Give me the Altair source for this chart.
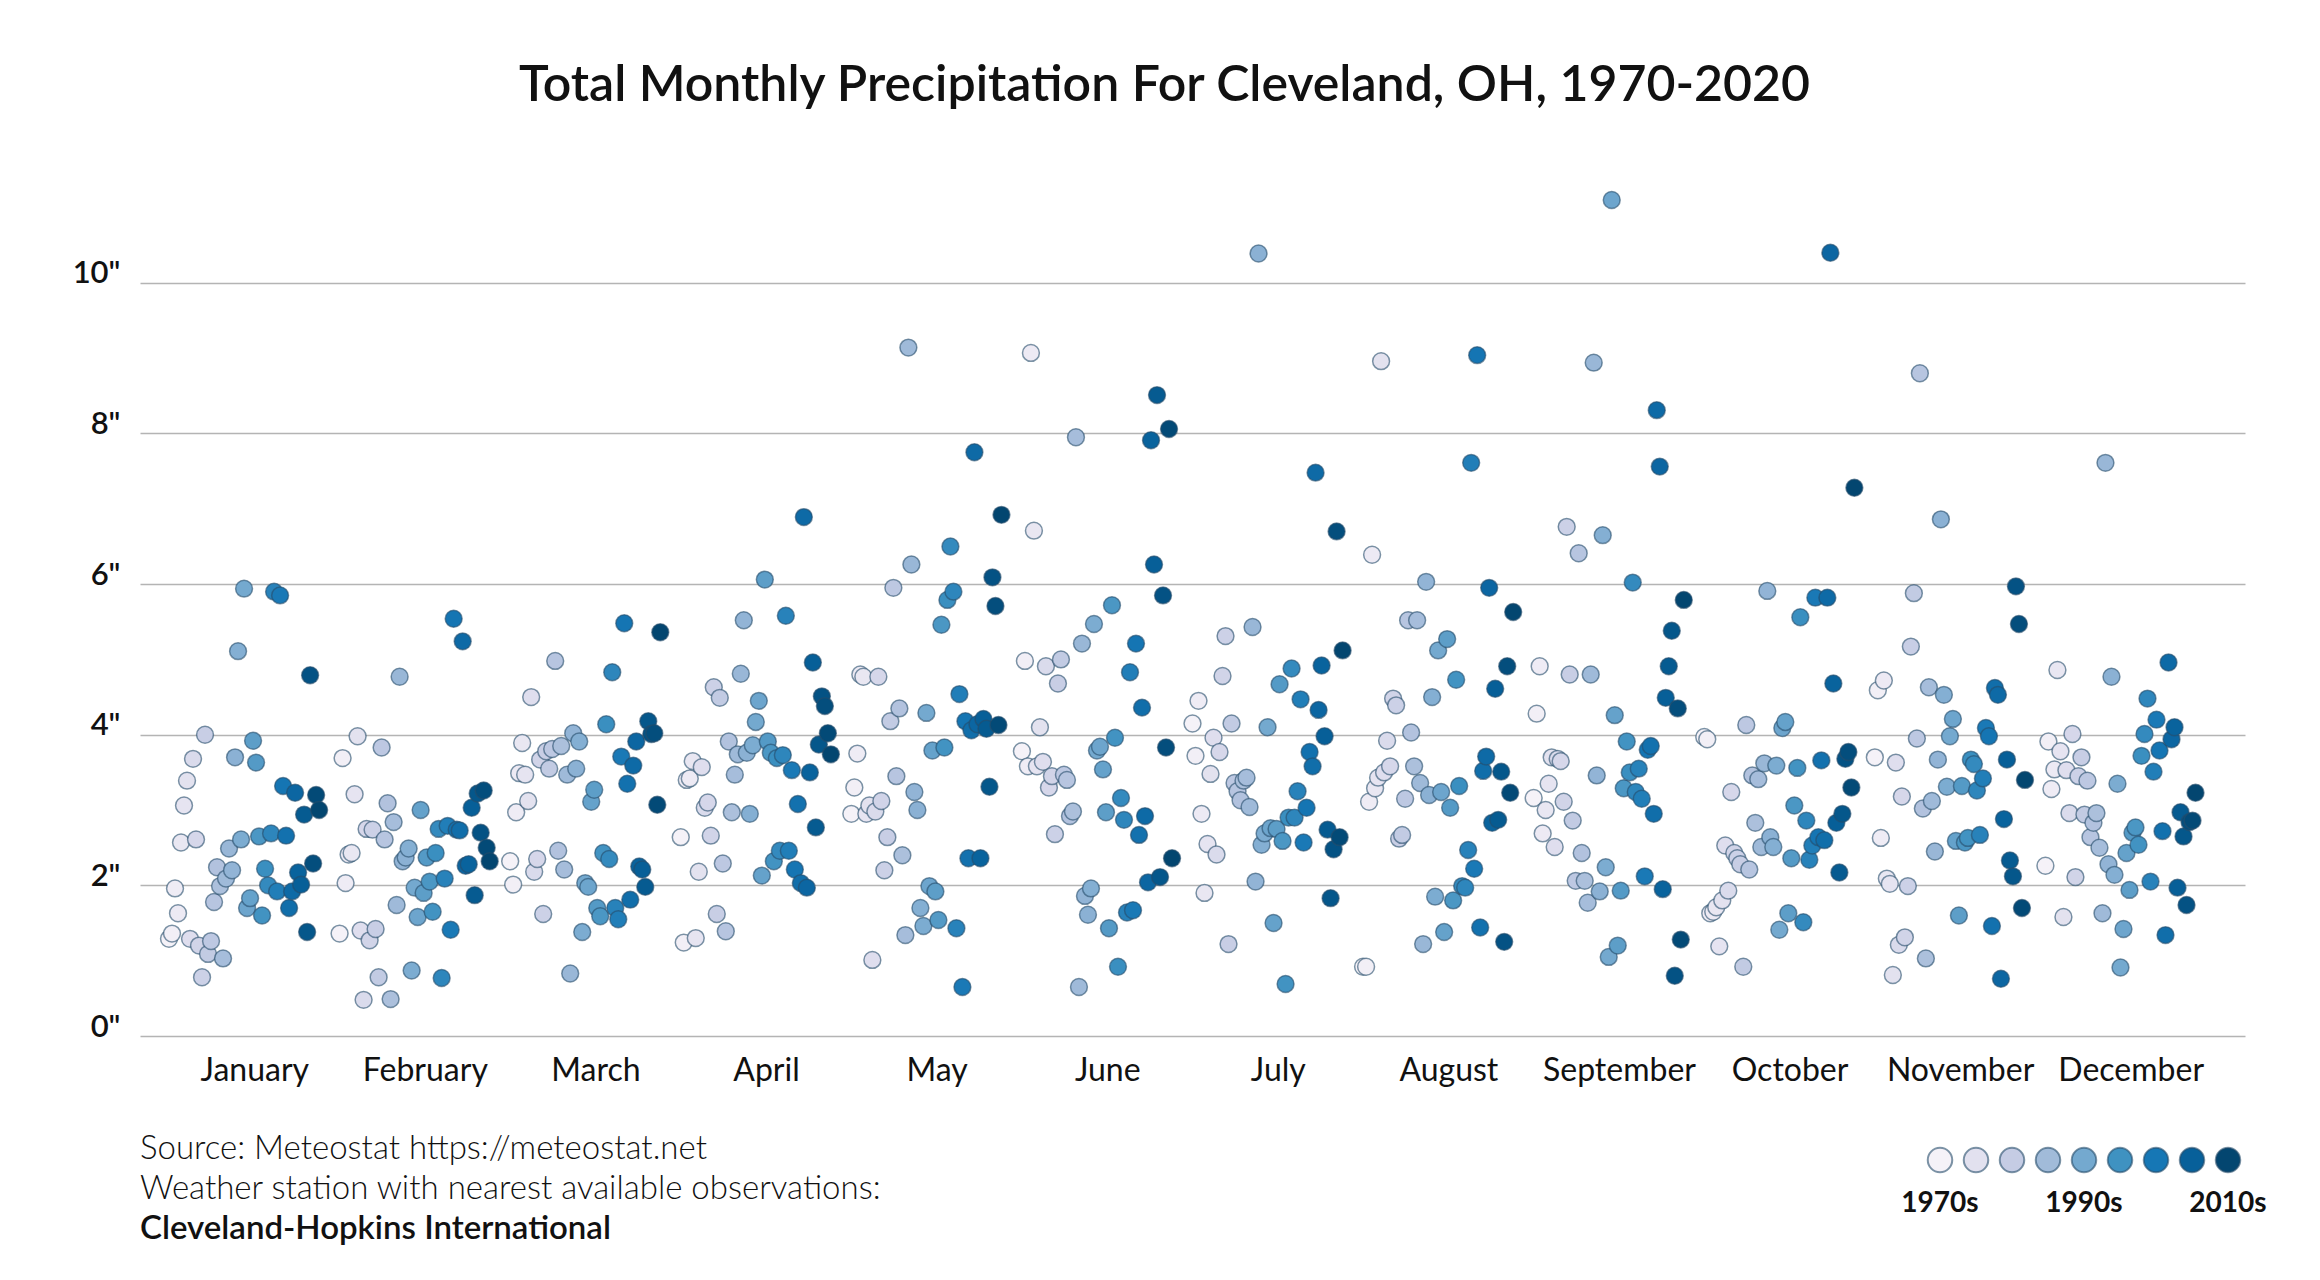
import altair as alt
import pandas as pd

TITLE = "Total Monthly Precipitation For Cleveland, OH, 1970-2020"
MONTHS = ["January", "February", "March", "April", "May", "June", "July",
          "August", "September", "October", "November", "December"]
YEARS = list(range(1970, 2021))

JAN = [1.29, 1.36, 1.96, 1.63, 2.57, 3.06, 3.39, 1.29, 3.68, 2.61, 1.20, 0.78, 4.00, 1.09, 1.26, 1.78, 2.24,
       1.99, 1.03, 2.09, 2.49, 2.20, 3.70, 5.11, 2.61, 5.94, 1.70, 1.83, 3.92, 3.63, 2.65, 1.60, 2.22, 2.00,
       2.69, 5.90, 1.92, 5.85, 3.32, 2.66, 1.70, 1.92, 3.23, 2.17, 2.01, 2.94, 1.38, 4.79, 2.29, 3.20, 3.00]
FEB = [1.36, 3.69, 2.03, 2.41, 2.43, 3.21, 3.98, 1.40, 0.48, 2.75, 1.27, 2.74, 1.42, 0.78, 3.83, 2.61, 3.09,
       0.49, 2.84, 1.74, 4.77, 2.32, 2.37, 2.49, 0.87, 1.97, 1.58, 3.00, 1.90, 2.37, 2.05, 1.65, 2.43, 2.75,
       0.77, 2.09, 2.79, 1.41, 5.54, 2.74, 2.73, 5.24, 2.26, 2.28, 3.03, 1.87, 3.22, 2.70, 3.26, 2.50, 2.32]
MAR = [2.32, 2.01, 2.97, 3.49, 3.89, 3.47, 3.12, 4.50, 2.18, 2.35, 3.67, 1.62, 3.78, 3.55, 3.81, 4.98, 2.46,
       3.85, 2.21, 3.47, 0.83, 4.02, 3.55, 3.91, 1.38, 2.03, 1.98, 3.11, 3.27, 1.70, 1.59, 2.43, 4.14, 2.35,
       4.83, 1.70, 1.55, 3.71, 5.48, 3.35, 1.81, 3.59, 3.91, 2.25, 2.21, 1.98, 4.18, 4.01, 4.02, 3.07, 5.36]
APR = [2.64, 1.24, 3.40, 3.42, 3.65, 1.30, 2.18, 3.57, 3.03, 3.10, 2.66, 4.63, 1.62, 4.49, 2.29, 1.39, 3.91,
       2.97, 3.47, 3.74, 4.81, 5.52, 3.76, 2.95, 3.86, 4.17, 4.45, 2.13, 6.06, 3.91, 3.76, 2.32, 3.69, 2.46,
       3.73, 5.58, 2.46, 3.53, 2.21, 3.08, 2.03, 6.89, 1.97, 3.50, 4.96, 2.77, 3.87, 4.51, 4.38, 4.02, 3.74]
MAY = [2.95, 3.30, 3.75, 4.80, 4.77, 2.95, 3.06, 1.01, 2.98, 4.77, 3.12, 2.20, 2.64, 4.18, 5.95, 3.45, 4.35,
       2.40, 1.34, 9.14, 6.26, 3.24, 3.00, 1.70, 1.46, 4.29, 1.99, 3.79, 1.92, 1.54, 5.46, 3.83, 5.79, 6.50,
       5.90, 1.43, 4.54, 0.65, 4.18, 2.36, 4.06, 7.75, 4.14, 2.36, 4.21, 4.08, 3.31, 6.09, 5.71, 4.13, 6.92]
JUN = [3.78, 4.98, 3.58, 9.07, 6.71, 3.58, 4.10, 3.64, 4.91, 3.30, 3.45, 2.68, 4.68, 5.00, 3.47, 3.40, 2.92,
       2.98, 7.95, 0.65, 5.21, 1.86, 1.61, 1.96, 5.47, 3.79, 3.84, 3.54, 2.97, 1.43, 5.72, 3.96, 0.92, 3.16,
       2.87, 1.64, 4.83, 1.67, 5.21, 2.67, 4.36, 2.92, 2.04, 7.91, 6.26, 8.51, 2.11, 5.85, 3.83, 8.06, 2.36]
JUL = [4.15, 3.72, 4.45, 2.95, 1.90, 2.55, 3.48, 3.96, 2.41, 3.77, 4.78, 5.31, 1.22, 4.15, 3.36, 3.25, 3.13,
       3.39, 3.43, 3.04, 5.43, 2.05, 10.39, 2.54, 2.69, 4.10, 2.76, 1.50, 2.75, 4.67, 2.59, 0.69, 2.90, 4.88,
       2.90, 3.25, 4.47, 2.57, 3.03, 3.77, 3.58, 7.48, 4.33, 4.92, 3.98, 2.74, 1.83, 2.48, 6.70, 2.64, 5.12]
AUG = [0.92, 0.92, 3.11, 6.39, 3.29, 3.43, 8.96, 3.50, 3.92, 3.58, 4.48, 4.39, 2.62, 2.67, 3.15, 5.52, 4.03,
       3.58, 5.52, 3.36, 1.22, 6.03, 3.20, 4.50, 1.85, 5.12, 3.24, 1.38, 5.27, 3.03, 1.80, 4.73, 3.32, 1.99,
       1.97, 2.47, 7.61, 2.22, 9.04, 1.44, 3.52, 3.71, 5.95, 2.83, 4.61, 2.87, 3.51, 1.25, 4.91, 3.23, 5.63]
SEP = [3.16, 4.28, 4.91, 2.69, 3.00, 3.35, 3.70, 2.51, 3.68, 3.65, 3.11, 6.76, 4.80, 2.86, 2.06, 6.41, 2.43,
       2.06, 1.77, 4.80, 8.94, 3.46, 1.92, 6.65, 2.24, 1.05, 11.10, 4.26, 1.20, 1.93, 3.29, 3.91, 3.50, 6.02,
       3.24, 3.55, 3.15, 2.12, 3.80, 3.85, 2.95, 8.31, 7.56, 1.95, 4.49, 4.91, 5.38, 0.80, 4.35, 1.28, 5.79]
OCT = [3.97, 3.94, 1.63, 1.65, 1.71, 1.19, 1.80, 2.53, 1.93, 3.24, 2.43, 2.36, 2.28, 0.92, 4.13, 2.21, 3.46,
       2.83, 3.41, 2.51, 3.62, 5.91, 2.64, 2.51, 3.59, 1.41, 4.09, 4.17, 1.63, 2.36, 3.06, 3.56, 5.56, 1.51,
       2.86, 2.34, 2.53, 5.82, 2.64, 3.66, 2.60, 5.82, 10.40, 4.68, 2.83, 2.17, 2.95, 3.68, 3.77, 3.30, 7.28]
NOV = [3.70, 4.59, 2.63, 4.72, 2.09, 2.02, 0.81, 3.63, 1.21, 3.18, 1.31, 1.99, 5.17, 5.88, 3.95, 8.80, 3.02,
       1.03, 4.63, 3.12, 2.45, 3.67, 6.86, 4.53, 3.31, 3.98, 4.21, 2.59, 1.60, 3.32, 2.57, 2.63, 3.67, 3.61,
       3.26, 2.67, 3.42, 4.09, 3.98, 1.46, 4.62, 4.53, 0.76, 2.88, 3.67, 2.33, 2.12, 5.97, 5.47, 1.70, 3.40]
DEC = [2.26, 3.91, 3.28, 3.54, 4.86, 3.78, 1.58, 3.53, 2.96, 4.01, 2.11, 3.45, 3.70, 2.94, 3.39, 2.64, 2.83,
       2.96, 2.50, 1.63, 7.61, 2.28, 4.77, 2.14, 3.35, 0.91, 1.42, 2.43, 1.94, 2.70, 2.77, 2.54, 3.72, 4.01,
       4.48, 2.05, 3.51, 4.20, 3.79, 2.72, 1.34, 4.96, 3.94, 4.10, 1.97, 2.97, 2.65, 1.74, 2.84, 2.86, 3.23]
SERIES = [JAN, FEB, MAR, APR, MAY, JUN, JUL, AUG, SEP, OCT, NOV, DEC]

Y_TICKS = [0, 2, 4, 6, 8, 10]
LEGEND_COLORS = ["#f5f2f8", "#e2e1ef", "#c5cce4", "#a1bbd9", "#74a9cf",
                 "#3f92c1", "#1677b5", "#07609a", "#034670"]
LEGEND_LABELS = ["1970s", "1990s", "2010s"]
LEGEND_LABEL_IDX = [0, 4, 8]
FOOTER = ["Source: Meteostat https://meteostat.net",
          "Weather station with nearest available observations:",
          "Cleveland-Hopkins International"]

FONT = "Lato"
INK = "#111111"

rows = []
for m, vals in enumerate(SERIES):
    for yr, v in zip(YEARS, vals):
        rows.append({"month": MONTHS[m], "m": m, "year": yr, "precip": v})
df = pd.DataFrame(rows)

stops = [1970 + i * 50 / 8 for i in range(9)]
color_scale = alt.Scale(domain=stops, range=LEGEND_COLORS)

month_expr = "[" + ",".join("'" + s + "'" for s in MONTHS) + "][datum.value]"

points = alt.Chart(df).transform_calculate(
    xpos="datum.m - 0.5 + (datum.year - 1970) * 0.0176"
).mark_circle(
    size=285, opacity=1, stroke="#274d6b", strokeOpacity=0.6, strokeWidth=1.5
).encode(
    x=alt.X("xpos:Q",
            scale=alt.Scale(domain=[-0.67, 11.67], nice=False, zero=False),
            axis=alt.Axis(values=list(range(12)), labelExpr=month_expr, title=None,
                          grid=False, ticks=False, domain=False, labelFlush=False,
                          labelOverlap=False, labelFont=FONT, labelFontSize=32,
                          labelFontWeight=400, labelColor=INK,
                          labelBaseline="alphabetic", labelPadding=44)),
    y=alt.Y("precip:Q",
            scale=alt.Scale(domain=[0, 11.1], nice=False, zero=True),
            axis=alt.Axis(values=Y_TICKS, labelExpr="datum.value + '\"'", title=None,
                          grid=True, gridColor="#b4b4b4", gridWidth=1.5, ticks=False,
                          domain=False, labelFont=FONT, labelFontSize=31,
                          labelFontWeight=600, labelColor=INK, labelPadding=20,
                          labelBaseline="alphabetic", labelFlush=False)),
    color=alt.Color("year:Q", scale=color_scale, legend=None),
    tooltip=["month:N", "year:Q", "precip:Q"],
)

leg_df = pd.DataFrame({"idx": list(range(9)), "year": stops})
leg_x = alt.Scale(domain=[0, 8], range=[1800, 2088])
leg_circles = alt.Chart(leg_df).mark_circle(
    size=600, opacity=1, stroke="#274d6b", strokeOpacity=0.6, strokeWidth=2
).encode(
    x=alt.X("idx:Q", scale=leg_x, axis=None),
    y=alt.value(960),
    color=alt.Color("year:Q", scale=color_scale, legend=None),
)

lab_df = pd.DataFrame({"idx": LEGEND_LABEL_IDX, "label": LEGEND_LABELS})
leg_labels = alt.Chart(lab_df).mark_text(
    font=FONT, fontSize=28, fontWeight=700, color=INK, align="center", baseline="alphabetic"
).encode(
    x=alt.X("idx:Q", scale=leg_x, axis=None),
    y=alt.value(1012),
    text="label:N",
)

foot_df = pd.DataFrame({"line": FOOTER[:2], "row": [0, 1]})
footer_light = alt.Chart(foot_df).mark_text(
    font=FONT, fontSize=33, fontWeight=300, color=INK, align="left", baseline="alphabetic"
).encode(
    x=alt.value(0),
    y=alt.Y("row:Q", scale=alt.Scale(domain=[0, 1], range=[959, 999]), axis=None),
    text="line:N",
)
footer_bold = alt.Chart(pd.DataFrame({"line": FOOTER[2:]})).mark_text(
    font=FONT, fontSize=33, fontWeight=600, color=INK, align="left", baseline="alphabetic"
).encode(
    x=alt.value(0),
    y=alt.value(1039),
    text="line:N",
)

chart = alt.layer(points, leg_circles, leg_labels, footer_light, footer_bold).resolve_scale(
    x="independent", y="independent"
).properties(
    width=2105,
    height=836,
    padding={"left": 132, "top": 192, "right": 67, "bottom": 236},
    autosize=alt.AutoSizeParams(type="none"),
    background="#ffffff",
    title=alt.TitleParams(text=TITLE, font=FONT, fontSize=50, fontWeight=600, color=INK,
                          anchor="middle", frame="group", dx=-28, offset=38,
                          baseline="alphabetic"),
).configure_view(strokeWidth=0)

chart.save("out.html", embed_options={"renderer": "svg", "actions": False})
